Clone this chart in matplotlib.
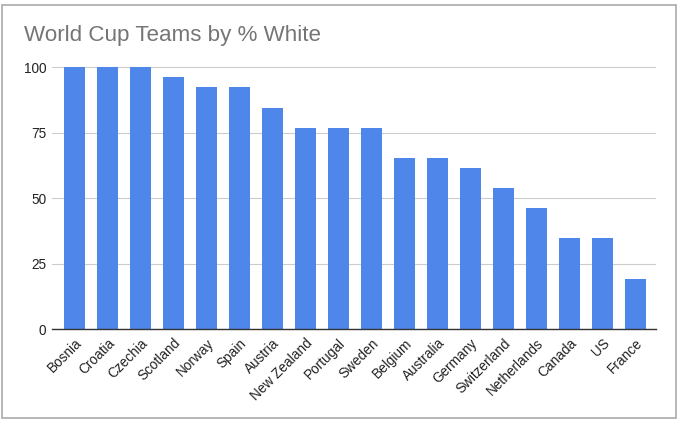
import matplotlib
matplotlib.use("Agg")
import matplotlib.pyplot as plt
from matplotlib.patches import Rectangle

# teams and share of white players (out of 26-man squads)
teams = ["Bosnia", "Croatia", "Czechia", "Scotland", "Norway", "Spain", "Austria",
         "New Zealand", "Portugal", "Sweden", "Belgium", "Australia", "Germany",
         "Switzerland", "Netherlands", "Canada", "US", "France"]
pct_white = [100, 100, 100, 96.2, 92.3, 92.3, 84.6, 76.9, 76.9, 76.9,
             65.4, 65.4, 61.5, 53.8, 46.2, 34.6, 34.6, 19.2]
yticks = [0, 25, 50, 75, 100]

plt.rcParams['font.family'] = ['Liberation Sans', 'DejaVu Sans']

fig = plt.figure(figsize=(6.8, 4.23), dpi=100)
ax = fig.add_axes([0.0765, 0.2222, 0.888, 0.622])

x = range(len(teams))
ax.bar(x, pct_white, width=0.64, color='#4f86ea', zorder=3)

ax.set_ylim(0, 100.5)
ax.set_xlim(-0.68, len(teams) - 1 + 0.62)
ax.set_yticks(yticks)
ax.set_yticklabels([str(t) for t in yticks], fontsize=9.8, color='#222222')
ax.set_xticks(list(x))
ax.set_xticklabels(teams, rotation=45, ha='right', rotation_mode='anchor',
                   fontsize=9.8, color='#222222')
ax.tick_params(axis='both', length=0)
ax.tick_params(axis='y', pad=4)
ax.tick_params(axis='x', pad=5)

ax.yaxis.grid(True, color='#cccccc', linewidth=0.8, zorder=0)
for s in ['top', 'right', 'left']:
    ax.spines[s].set_visible(False)
ax.spines['bottom'].set_color('#333333')
ax.spines['bottom'].set_linewidth(1.0)
ax.spines['bottom'].set_zorder(4)

fig.text(24 / 680, 1 - 35 / 423, "World Cup Teams by % White", fontsize=16.1,
         color='#757575', va='center', ha='left')

# chart frame
fig.patches.append(Rectangle((2 / 680, 5 / 423), 674 / 680, 413 / 423,
                             transform=fig.transFigure, fill=False,
                             edgecolor='#aaaaaa', linewidth=1.2))

fig.savefig("out.png", dpi=100)
